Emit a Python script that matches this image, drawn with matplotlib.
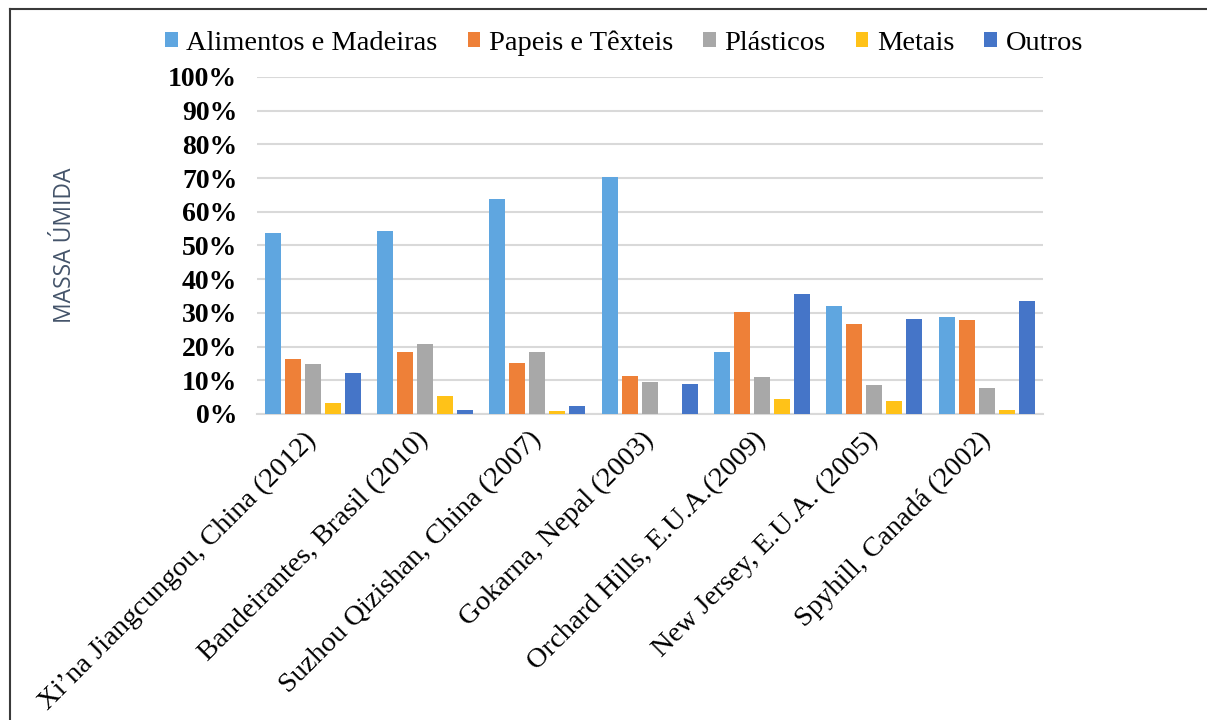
import matplotlib
matplotlib.use("Agg")
import matplotlib.pyplot as plt
import numpy as np
from matplotlib.lines import Line2D

categories = [
    "Xi\u2019na Jiangcungou, China (2012)",
    "Bandeirantes, Brasil (2010)",
    "Suzhou Qizishan, China (2007)",
    "Gokarna, Nepal (2003)",
    "Orchard Hills, E.U.A.(2009)",
    "New Jersey, E.U.A. (2005)",
    "Spyhill, Canad\u00e1 (2002)",
]
series_names = ["Alimentos e Madeiras", "Papeis e T\u00eaxteis", "Pl\u00e1sticos", "Metais", "Outros"]
alimentos = [53.6, 54.3, 63.8, 70.2, 18.5, 32.0, 28.9]
papeis = [16.2, 18.5, 15.0, 11.3, 30.3, 26.6, 27.9]
plasticos = [14.7, 20.8, 18.5, 9.4, 10.9, 8.7, 7.8]
metais = [3.2, 5.4, 0.8, 0.0, 4.4, 3.8, 1.3]
outros = [12.2, 1.1, 2.4, 8.8, 35.5, 28.1, 33.4]
yticks = list(range(0, 101, 10))
ytick_labels = [f"{v}%" for v in yticks]

colors = ["#5FA6E0", "#EE8038", "#A8A8A8", "#FFC218", "#4575C8"]
series = [alimentos, papeis, plasticos, metais, outros]

W, H = 1207, 720
fig = plt.figure(figsize=(W / 100, H / 100), dpi=100)
ax = fig.add_axes([256.7 / W, 1 - 414 / H, (1042.7 - 256.7) / W, (414 - 77) / H])

x = np.arange(len(categories))
step = 0.178
bw = 0.142
for i, (vals, name, c) in enumerate(zip(series, series_names, colors)):
    ax.bar(x + (i - 2) * step, vals, width=bw, color=c, label=name, zorder=3)

ax.set_xlim(-0.5, len(categories) - 0.5)
ax.set_ylim(0, 100)
ax.set_yticks(yticks)
ax.set_yticklabels(ytick_labels, fontfamily="Liberation Serif", fontweight="bold", fontsize=20)
ax.tick_params(axis="y", length=0, pad=14)
ax.yaxis.grid(True, color="#D9D9D9", linewidth=1.5, zorder=0)
ax.set_axisbelow(True)
for s in ["top", "right", "left"]:
    ax.spines[s].set_visible(False)
ax.spines["bottom"].set_color("#D9D9D9")
ax.spines["bottom"].set_linewidth(1.5)

ax.set_xticks(x)
ax.set_xticklabels(categories, fontfamily="Liberation Serif", fontsize=20.5,
                   rotation=45, ha="right", va="center", rotation_mode="anchor")
ax.tick_params(axis="x", length=0, pad=16)

fig.text(65 / W, 1 - 245 / H, "MASSA \u00daMIDA", rotation=90, ha="center", va="center",
         color="#44546A", fontsize=16.5, family=["Liberation Sans Narrow", "Open Sans", "DejaVu Sans"])

leg = fig.legend(loc="center", bbox_to_anchor=(624 / W, 1 - 43 / H), ncol=5, frameon=False,
                 prop={"family": "Liberation Serif", "size": 20.5},
                 handlelength=0.45, handleheight=0.45, handletextpad=0.3, columnspacing=1.05,
                 borderaxespad=0)

# image border
fig.add_artist(Line2D([10 / W, 1], [1 - 8.5 / H, 1 - 8.5 / H], transform=fig.transFigure,
                      color="#3a3a3a", linewidth=1.5))
fig.add_artist(Line2D([10 / W, 10 / W], [0, 1 - 8.5 / H], transform=fig.transFigure,
                      color="#3a3a3a", linewidth=1.5))

fig.savefig("out.png", dpi=100)
